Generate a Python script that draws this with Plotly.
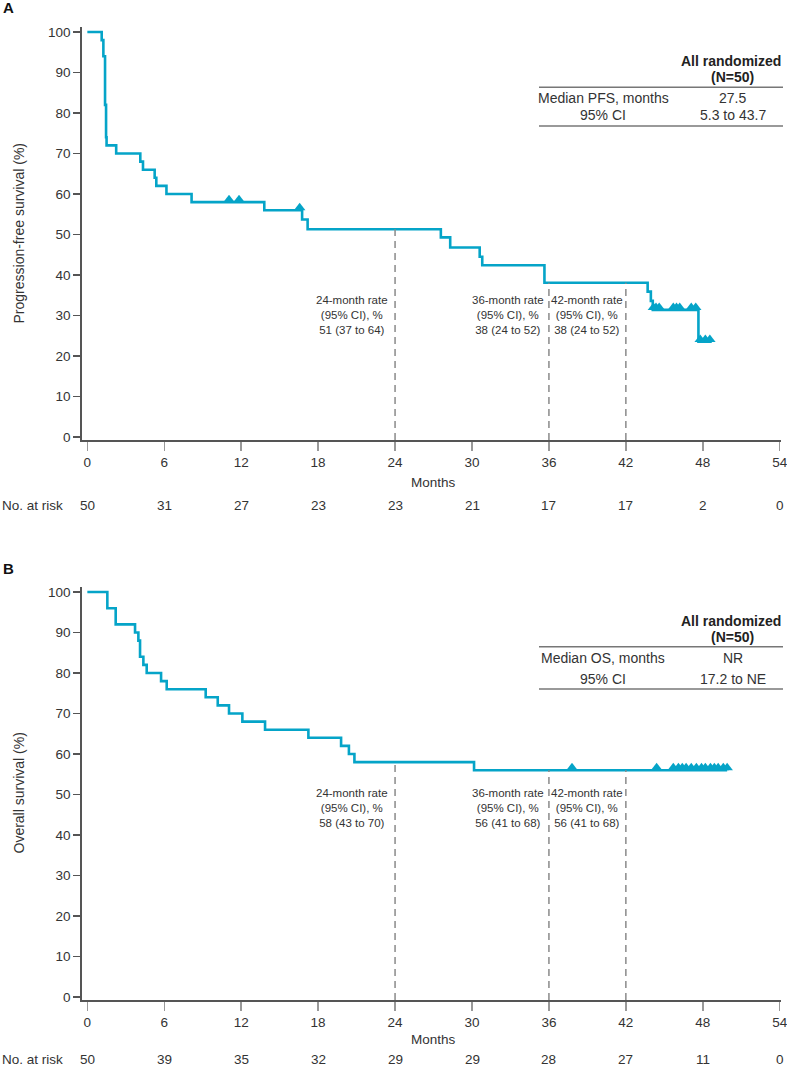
import numpy as np
import plotly.graph_objects as go

# ---------------- data ----------------
pfs_times = [0, 1.12, 1.25, 1.38, 1.46, 1.5, 2.25, 4.13, 4.34, 5.25, 5.38, 6.17, 8.13, 13.8,
             16.75, 17.18, 27.57, 28.3, 30.6, 30.8, 35.65, 43.7, 43.95, 44.1, 47.66]
pfs_surv = [100, 98, 94, 82, 74, 72, 70, 68, 66, 64, 62, 60, 58, 56,
            53.7, 51.3, 49.3, 46.8, 44.5, 42.4, 38.1, 35.9, 33.6, 31.4, 23.5]
pfs_end = 48.7
pfs_censor = [11.05, 11.83, 16.56, 44.15, 44.35, 44.6, 45.7, 45.95, 46.2, 47.1, 47.45, 47.8, 48.2, 48.55]

os_times = [0, 1.56, 2.21, 3.72, 3.98, 4.11, 4.37, 4.63, 5.75, 6.19, 9.23, 10.17, 11.05,
            12.09, 13.86, 17.24, 19.79, 20.4, 20.83, 30.16]
os_surv = [100, 96, 92, 90, 88, 84, 82, 80, 78, 76, 74, 72, 70, 68, 66, 64, 62, 60, 58, 56]
os_end = 49.9
os_censor = [37.8, 44.4, 45.7, 46.1, 46.4, 46.7, 47.1, 47.5, 47.9, 48.2, 48.6, 48.9, 49.2, 49.6, 49.9]

month_ticks = [0, 6, 12, 18, 24, 30, 36, 42, 48, 54]
pfs_at_risk = [50, 31, 27, 23, 23, 21, 17, 17, 2, 0]
os_at_risk = [50, 39, 35, 32, 29, 29, 28, 27, 11, 0]

landmarks = [24, 36, 42]
pfs_rate_text = ["24-month rate<br>(95% CI), %<br>51 (37 to 64)",
                 "36-month rate<br>(95% CI), %<br>38 (24 to 52)",
                 "42-month rate<br>(95% CI), %<br>38 (24 to 52)"]
os_rate_text = ["24-month rate<br>(95% CI), %<br>58 (43 to 70)",
                "36-month rate<br>(95% CI), %<br>56 (41 to 68)",
                "42-month rate<br>(95% CI), %<br>56 (41 to 68)"]

table_header = ["All randomized", "(N=50)"]
pfs_table = [("Median PFS, months", "27.5"), ("95% CI", "5.3 to 43.7")]
os_table = [("Median OS, months", "NR"), ("95% CI", "17.2 to NE")]

# ---------------- style ----------------
W, H = 787, 1070
FONT = "Liberation Sans, Arial, sans-serif"
TXT = "#333333"
BLUE = "#05A4C8"
AX = "#555555"

def px(x):
    return x / W

def py(y):
    return 1 - y / H

def step_value(times, surv, t):
    i = int(np.searchsorted(np.asarray(times), t, side="right")) - 1
    return surv[max(i, 0)]

XR = [-0.44, 54.1]
YR = [-0.74, 101.23]

fig = go.Figure()

panels = [
    dict(times=pfs_times, surv=pfs_surv, end=pfs_end, cens=pfs_censor, risk=pfs_at_risk,
         rates=pfs_rate_text, table=pfs_table, xa="x", ya="y", off=0,
         months_y=482, risk_y=505,
         ytitle="Progression-free survival (%)", label="A", rate_y=30.0,
         rows_y=[97.7, 115], hdr_y=[60.7, 77.3], lines_y=[87.3, 126]),
    dict(times=os_times, surv=os_surv, end=os_end, cens=os_censor, risk=os_at_risk,
         rates=os_rate_text, table=os_table, xa="x2", ya="y2", off=560,
         months_y=1039, risk_y=1059,
         ytitle="Overall survival (%)", label="B", rate_y=46.6,
         rows_y=[657.7, 679], hdr_y=[620.7, 637], lines_y=[646.7, 689]),
]

annotations = []
shapes = []
rate_x = [20.65, 32.8, 39.0]

for p in panels:
    xs = list(p["times"]) + [p["end"]]
    ys = list(p["surv"]) + [p["surv"][-1]]
    fig.add_trace(go.Scatter(x=xs, y=ys, mode="lines", line=dict(color=BLUE, width=2.6, shape="hv"),
                             xaxis=p["xa"], yaxis=p["ya"], showlegend=False, hoverinfo="skip"))
    cy = [step_value(p["times"], p["surv"], t) + 0.6 for t in p["cens"]]
    fig.add_trace(go.Scatter(x=p["cens"], y=cy, mode="markers",
                             marker=dict(symbol="triangle-up", size=10, color=BLUE, line=dict(width=0)),
                             xaxis=p["xa"], yaxis=p["ya"], showlegend=False, hoverinfo="skip"))
    # landmark dashed lines
    for lm, txt, rx in zip(landmarks, p["rates"], rate_x):
        v = step_value(p["times"], p["surv"], lm)
        shapes.append(dict(type="line", xref=p["xa"], yref=p["ya"], x0=lm, x1=lm, y0=YR[0], y1=v,
                           line=dict(color="#8a8a8a", width=1.5, dash="7px,5px")))
        annotations.append(dict(x=rx, y=p["rate_y"], xref=p["xa"], yref=p["ya"], text=txt,
                                showarrow=False, xanchor="center", yanchor="middle", align="center",
                                font=dict(family=FONT, size=11.5, color=TXT)))
    off = p["off"]
    # axis title / months / at risk
    annotations.append(dict(x=px(18), y=py(233.5 + off), xref="paper", yref="paper", text=p["ytitle"],
                            textangle=-90, showarrow=False, xanchor="center", yanchor="middle",
                            font=dict(family=FONT, size=14, color=TXT)))
    annotations.append(dict(x=27, y=py(p["months_y"]), xref=p["xa"], yref="paper", text="Months",
                            showarrow=False, xanchor="center", yanchor="middle",
                            font=dict(family=FONT, size=13.5, color=TXT)))
    annotations.append(dict(x=px(0), y=py(p["risk_y"]), xref="paper", yref="paper", text="No. at risk",
                            showarrow=False, xanchor="left", yanchor="middle",
                            font=dict(family=FONT, size=13.5, color=TXT)))
    for t, n in zip(month_ticks, p["risk"]):
        annotations.append(dict(x=t, y=py(p["risk_y"]), xref=p["xa"], yref="paper", text=str(n),
                                showarrow=False, xanchor="center", yanchor="middle",
                                font=dict(family=FONT, size=13.5, color=TXT)))
    # panel label
    annotations.append(dict(x=px(1), y=py(8 + off), xref="paper", yref="paper", text="<b>%s</b>" % p["label"],
                            showarrow=False, xanchor="left", yanchor="middle",
                            font=dict(family=FONT, size=15, color="#111111")))
    # table
    annotations.append(dict(x=px(783), y=py(p["hdr_y"][0]), xref="paper", yref="paper",
                            text="<b>%s</b>" % table_header[0], showarrow=False, xanchor="right",
                            yanchor="middle", font=dict(family=FONT, size=14, color="#222222")))
    annotations.append(dict(x=px(732.5), y=py(p["hdr_y"][1]), xref="paper", yref="paper",
                            text="<b>%s</b>" % table_header[1], showarrow=False, xanchor="center",
                            yanchor="middle", font=dict(family=FONT, size=14, color="#222222")))
    for (lab, val), ry in zip(p["table"], p["rows_y"]):
        annotations.append(dict(x=px(603), y=py(ry), xref="paper", yref="paper", text=lab,
                                showarrow=False, xanchor="center", yanchor="middle",
                                font=dict(family=FONT, size=14, color=TXT)))
        annotations.append(dict(x=px(732.5), y=py(ry), xref="paper", yref="paper", text=val,
                                showarrow=False, xanchor="center", yanchor="middle",
                                font=dict(family=FONT, size=14, color=TXT)))
    for ly in p["lines_y"]:
        shapes.append(dict(type="line", xref="paper", yref="paper", x0=px(539), x1=px(783),
                           y0=py(ly), y1=py(ly), line=dict(color="#777777", width=1.5)))

xcommon = dict(range=XR, domain=[px(81.7), px(781)], tickmode="array", tickvals=month_ticks,
               ticks="outside", ticklen=9, tickwidth=1.5, tickcolor="#999999", showline=True,
               linecolor=AX, linewidth=1.5, showgrid=False, zeroline=False,
               ticklabeloverflow="allow", automargin=False,
               tickfont=dict(family=FONT, size=13.5, color=TXT))
ycommon = dict(range=YR, tickmode="array", tickvals=list(range(0, 101, 10)), ticks="outside",
               ticklen=7, tickwidth=1.2, tickcolor=AX, showline=True, linecolor=AX, linewidth=1.5,
               showgrid=False, zeroline=False, automargin=False,
               tickfont=dict(family=FONT, size=13.5, color=TXT))

fig.update_layout(
    width=W, height=H, autosize=False,
    margin=dict(l=0, r=0, t=0, b=0, autoexpand=False),
    paper_bgcolor="white", plot_bgcolor="white",
    xaxis=dict(xcommon, anchor="y"),
    yaxis=dict(ycommon, anchor="x", domain=[py(440), py(27)]),
    xaxis2=dict(xcommon, anchor="y2"),
    yaxis2=dict(ycommon, anchor="x2", domain=[py(1000), py(587)]),
    annotations=annotations, shapes=shapes,
    font=dict(family=FONT, color=TXT),
)

fig.write_html("out.html",
               config={"displayModeBar": False, "staticPlot": True},
               post_script="document.body.style.margin='0';document.body.style.padding='0';"
                           "document.documentElement.style.overflow='hidden';")
